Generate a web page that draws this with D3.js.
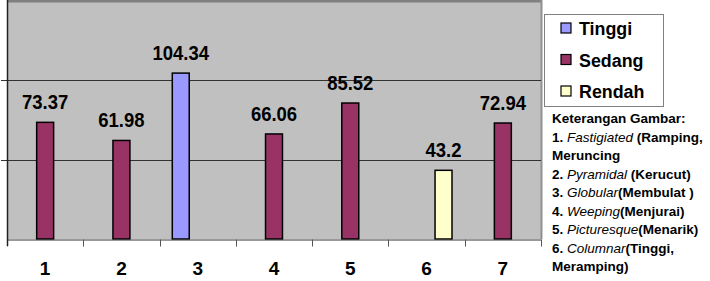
<!DOCTYPE html>
<html>
<head>
<meta charset="utf-8">
<script src="https://cdn.jsdelivr.net/npm/d3@7"></script>
<style>
  body { margin: 0; background: #fff; }
  text { font-family: "Liberation Sans", Arial, sans-serif; font-weight: bold; }
</style>
</head>
<body>
<script>
var categories = ["1", "2", "3", "4", "5", "6", "7"];
var seriesNames = ["Tinggi", "Sedang", "Rendah"];
var tinggi = [null, null, 104.34, null, null, null, null];
var sedang = [73.37, 61.98, null, 66.06, 85.52, null, 72.94];
var rendah = [null, null, null, null, null, 43.2, null];
var yTicks = [0, 50, 100, 150];
var notes = [
  [["Keterangan Gambar:", false]],
  [["1. ", false], ["Fastigiated", true], [" (Ramping,", false]],
  [["Meruncing", false]],
  [["2. ", false], ["Pyramidal", true], [" (Kerucut)", false]],
  [["3. ", false], ["Globular", true], ["(Membulat )", false]],
  [["4. ", false], ["Weeping", true], ["(Menjurai)", false]],
  [["5. ", false], ["Picturesque", true], ["(Menarik)", false]],
  [["6. ", false], ["Columnar", true], ["(Tinggi,", false]],
  [["Meramping)", false]]
];

var colors = { Tinggi: "#9999ff", Sedang: "#993366", Rendah: "#ffffcc" };
var seriesData = { Tinggi: tinggi, Sedang: sedang, Rendah: rendah };

var width = 710, height = 281;
var plot = { left: 7, right: 541, top: 0.5, bottom: 239 };

var svg = d3.select("body").append("svg")
  .attr("width", width)
  .attr("height", height);

var x = d3.scaleBand().domain(categories).range([plot.left, plot.right]).padding(0);
var xs = d3.scaleBand().domain(seriesNames).range([0, x.bandwidth()])
  .paddingInner(0).paddingOuter(0.75);
var y = d3.scaleLinear().domain([0, 150]).range([plot.bottom, plot.top]);

// plot background
svg.append("rect")
  .attr("x", plot.left).attr("y", 0)
  .attr("width", plot.right - plot.left).attr("height", plot.bottom)
  .attr("fill", "#c0c0c0");

// top and right border
svg.append("line")
  .attr("x1", plot.left).attr("x2", plot.right + 1)
  .attr("y1", 1).attr("y2", 1)
  .attr("stroke", "#808080").attr("stroke-width", 3);
svg.append("line")
  .attr("x1", plot.right + 0.5).attr("x2", plot.right + 0.5)
  .attr("y1", 0).attr("y2", plot.bottom)
  .attr("stroke", "#909090").attr("stroke-width", 2);

// gridlines
svg.append("g").selectAll("line")
  .data(yTicks.filter(function (d) { return d > 0 && d < 150; }))
  .enter().append("line")
  .attr("x1", plot.left - 6).attr("x2", plot.right)
  .attr("y1", function (d) { return Math.round(y(d)) + 0.5; })
  .attr("y2", function (d) { return Math.round(y(d)) + 0.5; })
  .attr("stroke", "#333").attr("stroke-width", 1);

// bars
var bars = [];
seriesNames.forEach(function (s) {
  seriesData[s].forEach(function (v, i) {
    if (v != null) bars.push({ cat: categories[i], series: s, value: v });
  });
});

svg.append("g").selectAll("rect")
  .data(bars).enter().append("rect")
  .attr("x", function (d) { return x(d.cat) + xs(d.series); })
  .attr("y", function (d) { return y(d.value); })
  .attr("width", xs.bandwidth())
  .attr("height", function (d) { return plot.bottom - y(d.value); })
  .attr("fill", function (d) { return colors[d.series]; })
  .attr("stroke", "#000")
  .attr("stroke-width", 1.5);

// value labels, a bit condensed like the original
svg.append("g").selectAll("text")
  .data(bars).enter().append("text")
  .attr("transform", function (d) {
    var cx = x(d.cat) + xs(d.series) + xs.bandwidth() / 2;
    return "translate(" + cx + "," + (y(d.value) - 13) + ") scale(0.88,1)";
  })
  .attr("text-anchor", "middle")
  .attr("font-size", 21)
  .attr("fill", "#000")
  .text(function (d) { return d.value; });

// axes
var xAxis = d3.axisBottom(x).tickSize(0).tickPadding(22);
var gx = svg.append("g").attr("transform", "translate(0," + (plot.bottom + 0.5) + ")").call(xAxis);
gx.select(".domain").attr("stroke", "#333").attr("stroke-width", 1);
gx.selectAll("text").attr("font-size", 19).attr("fill", "#000")
  .style("font-family", "'Liberation Sans', Arial, sans-serif").style("font-weight", "bold");
gx.selectAll(".sep").data(categories.concat(["end"])).enter().append("line")
  .attr("class", "sep")
  .attr("x1", function (d, i) { return Math.round(plot.left + i * x.step()) + 0.5; })
  .attr("x2", function (d, i) { return Math.round(plot.left + i * x.step()) + 0.5; })
  .attr("y1", 0).attr("y2", 7)
  .attr("stroke", "#555");

svg.append("line")
  .attr("x1", plot.left + 0.5).attr("x2", plot.left + 0.5)
  .attr("y1", 0).attr("y2", plot.bottom + 7)
  .attr("stroke", "#222").attr("stroke-width", 1.5);

// legend
var legend = svg.append("g");
legend.append("rect")
  .attr("x", 544.5).attr("y", 14.5)
  .attr("width", 119).attr("height", 92)
  .attr("fill", "#fff").attr("stroke", "#808080");
var item = legend.selectAll(".item").data(seriesNames).enter().append("g")
  .attr("transform", function (d, i) { return "translate(0," + (28 + i * 31.5) + ")"; });
item.append("rect")
  .attr("x", 561).attr("y", -5)
  .attr("width", 10).attr("height", 10)
  .attr("fill", function (d) { return colors[d]; })
  .attr("stroke", "#000").attr("stroke-width", 1.2);
item.append("text")
  .attr("transform", "translate(579,7) scale(0.94,1)")
  .attr("font-size", 19)
  .text(function (d) { return d; });

// keterangan
var note = svg.append("g").selectAll("text").data(notes).enter().append("text")
  .attr("x", 552)
  .attr("y", function (d, i) { return 123 + i * 18.5; })
  .attr("font-size", 13.5);
note.selectAll("tspan").data(function (d) { return d; }).enter().append("tspan")
  .attr("font-style", function (d) { return d[1] ? "italic" : "normal"; })
  .attr("font-weight", function (d) { return d[1] ? "normal" : "bold"; })
  .text(function (d) { return d[0]; });
</script>
</body>
</html>
